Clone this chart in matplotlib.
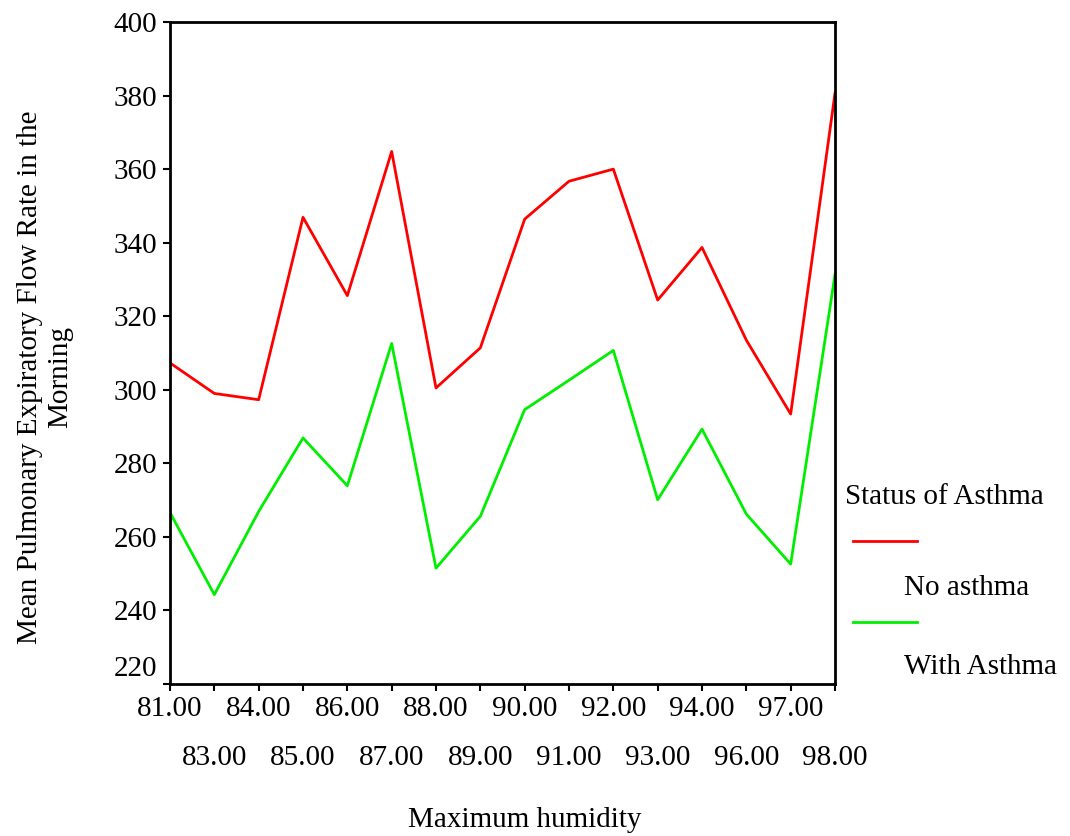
import numpy as np
import matplotlib
matplotlib.use("Agg")
import matplotlib.pyplot as plt
import matplotlib.transforms as mtransforms
from matplotlib.ticker import FixedLocator, FixedFormatter

plt.rcParams['font.family'] = ['Liberation Serif', 'DejaVu Serif']

# humidity categories (evenly spaced on the axis)
humidity = ['81.00', '83.00', '84.00', '85.00', '86.00', '87.00', '88.00', '89.00',
            '90.00', '91.00', '92.00', '93.00', '94.00', '96.00', '97.00', '98.00']
no_asthma = [307.3, 299.0, 297.3, 346.9, 325.6, 364.8, 300.5, 311.4,
             346.4, 356.7, 360.0, 324.4, 338.7, 313.5, 293.4, 380.6]
with_asthma = [266.6, 244.3, 266.9, 286.9, 273.9, 312.6, 251.5, 265.6,
               294.6, 302.6, 310.7, 270.1, 289.3, 266.2, 252.6, 331.3]

fs = 21
fig = plt.figure(figsize=(10.7, 8.36), dpi=100)
ax = fig.add_axes([170/1070, 1 - 684/836, 665/1070, 662/836])

x = np.arange(len(humidity))
ax.plot(x, no_asthma, color='#ff0000', lw=2)
ax.plot(x, with_asthma, color='#00ee00', lw=2)

ax.set_xlim(0, len(humidity) - 1)
ax.set_ylim(220, 400)
ax.set_yticks(np.arange(220, 401, 20))

# staggered x labels: even positions on first row, odd on second row
ax.xaxis.set_major_locator(FixedLocator(x[::2]))
ax.xaxis.set_major_formatter(FixedFormatter(humidity[::2]))
ax.xaxis.set_minor_locator(FixedLocator(x[1::2]))
ax.xaxis.set_minor_formatter(FixedFormatter(humidity[1::2]))

ax.tick_params(axis='x', which='major', length=5, width=1.5, pad=4, labelsize=fs)
ax.tick_params(axis='x', which='minor', length=5, width=1.5, pad=39, labelsize=fs)
ax.tick_params(axis='y', length=5, width=1.5, pad=4, labelsize=fs)

for s in ax.spines.values():
    s.set_linewidth(2)

# the bottom y label sits just above the axis corner
fig.canvas.draw()
lab = ax.get_yticklabels()[0]
lab.set_transform(lab.get_transform() +
                  mtransforms.ScaledTranslation(0, 18/100, fig.dpi_scale_trans))

fig.text(525/1070, 1 - 820/836, 'Maximum humidity', ha='center', va='center', fontsize=fs)
fig.text(45/1070, 1 - 377/836, 'Mean Pulmonary Expiratory Flow Rate in the\nMorning',
         ha='center', va='center', rotation=90, fontsize=fs, linespacing=1.2)

# legend drawn by hand to match the stacked layout
fig.text(845/1070, 1 - 497/836, 'Status of Asthma', ha='left', va='center', fontsize=fs)
fig.add_artist(plt.Line2D([853/1070, 917/1070], [1 - 541/836, 1 - 541/836],
                          color='#ff0000', lw=2))
fig.text(904/1070, 1 - 588/836, 'No asthma', ha='left', va='center', fontsize=fs)
fig.add_artist(plt.Line2D([853/1070, 917/1070], [1 - 622/836, 1 - 622/836],
                          color='#00ee00', lw=2))
fig.text(904/1070, 1 - 667/836, 'With Asthma', ha='left', va='center', fontsize=fs)

fig.savefig('out.png', dpi=100)
